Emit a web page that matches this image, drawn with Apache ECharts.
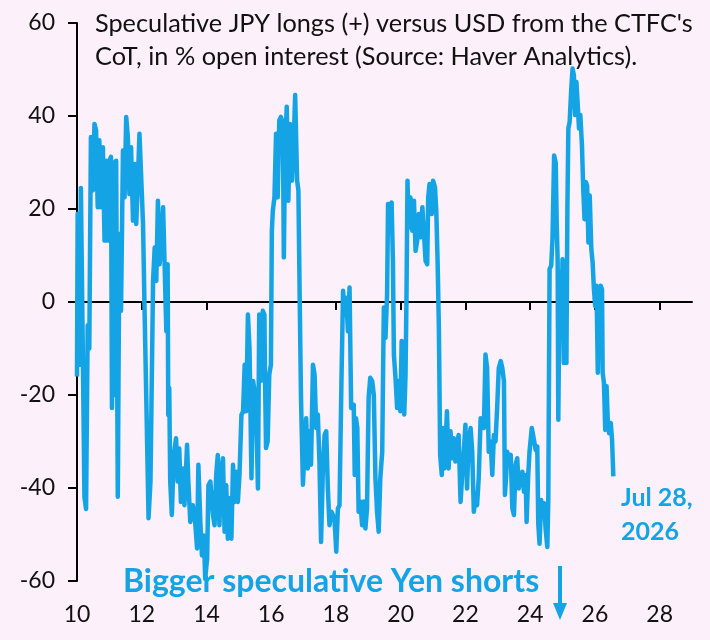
<!DOCTYPE html>
<html>
<head>
<meta charset="utf-8">
<script src="https://cdn.jsdelivr.net/npm/echarts@6/dist/echarts.min.js"></script>
<style>
  html, body { margin: 0; padding: 0; background: #FCF0FA; }
  #chart { width: 710px; height: 640px; }
</style>
</head>
<body>
<div id="chart"></div>
<script>
// Decimal years (10 = 2010) of the observations
const dates = [
  10.00,10.02,10.07,10.12,10.18,10.23,10.28,10.33,10.38,10.43,10.49,10.54,10.59,10.64,10.69,10.74,10.80,10.85,10.90,10.95,
  11.00,11.05,11.08,11.11,11.13,11.16,11.21,11.26,11.31,11.36,11.42,11.47,11.52,11.57,11.62,11.67,11.73,11.78,11.83,11.88,
  11.93,11.98,12.04,12.09,12.14,12.21,12.27,12.35,12.40,12.45,12.50,12.55,12.60,12.66,12.71,12.76,
  12.80,12.82,12.85,12.88,12.93,12.99,13.06,13.11,13.16,13.21,13.27,13.32,13.40,13.44,13.50,13.58,13.65,13.71,13.75,13.81,
  13.86,13.92,13.96,14.02,14.06,14.12,14.20,14.25,14.30,14.35,14.40,14.45,14.51,14.56,14.61,14.66,14.71,14.77,14.82,14.87,
  14.92,14.97,15.02,15.08,15.13,15.18,15.23,15.28,15.33,15.39,15.44,15.49,15.54,15.59,
  15.63,15.68,15.74,15.79,15.81,15.84,15.89,15.94,15.99,16.02,16.05,16.10,16.15,16.20,16.25,16.30,16.36,16.39,16.43,16.48,
  16.53,16.58,16.64,16.69,16.74,16.80,16.84,16.88,16.92,16.98,17.03,17.08,17.13,17.18,17.23,17.29,17.34,17.39,17.44,17.49,
  17.54,17.60,17.65,17.70,17.75,17.80,17.86,17.91,17.96,18.01,18.06,18.11,18.17,18.22,18.27,18.32,18.37,18.42,18.47,
  18.55,18.58,18.62,18.66,18.70,18.75,18.81,18.86,18.91,18.96,19.01,19.06,19.12,19.17,19.22,19.27,19.32,19.37,19.43,19.46,
  19.48,19.53,19.58,19.61,19.66,19.72,19.76,19.79,19.84,19.89,19.94,19.99,20.03,20.07,20.11,20.15,20.18,20.21,20.25,20.30,
  20.36,20.41,20.46,20.51,20.56,20.61,20.67,20.72,20.77,20.82,20.85,20.89,20.96,21.00,21.06,21.10,21.14,21.18,21.22,21.27,
  21.31,21.35,
  21.43,21.48,21.54,21.59,21.64,21.69,21.74,21.79,21.85,21.90,21.95,22.00,22.05,22.10,22.16,22.21,22.26,22.31,22.36,22.41,
  22.47,22.52,22.57,22.62,22.67,22.72,22.78,22.83,22.88,22.93,22.98,23.03,23.09,23.14,23.19,23.22,23.26,23.29,23.34,23.40,
  23.45,23.50,23.55,23.60,23.65,23.71,23.76,23.81,23.86,23.89,23.94,23.98,24.05,24.09,
  24.17,24.22,24.25,24.29,24.34,24.38,24.43,24.48,24.53,24.56,24.60,24.65,24.69,24.74,24.79,24.82,24.85,24.87,24.91,24.96,
  25.00,25.04,25.08,25.12,25.15,25.18,25.22,25.27,25.31,25.35,25.39,25.43,25.47,25.51,25.55,25.60,25.64,25.68,25.72,25.76,
  25.80,25.84,25.89,25.93,25.97,26.01,26.05,26.09,26.13,26.18,26.22,26.24,26.28,26.32,26.36,26.40,26.44,26.49,26.53,26.57
];

// Speculative net JPY longs vs USD, % of open interest
const jpyNet = [
  -16,19,-13.5,24.5,-11,-42,-44.5,-5,-10,35.5,24,38.3,36.9,20.4,34.8,20.4,33.3,13.2,30.4,13.2,
  30.4,31.2,-22.8,-2.7,30,-20,30.4,-41.9,14.6,-1.9,32.6,22.5,39.8,35.5,23.2,33.3,17.5,29.7,16.8,26.1,
  36.2,36.2,16.8,-2.7,-20.6,-46.5,-38.6,4.5,11.7,4.5,21.8,8.1,11.7,20.4,20.3,-6.3,
  8.1,-24.3,-18.5,-38.6,-45.8,-32.9,-29.3,-38.6,-31.5,-43,-35.8,-43.7,-30.7,-38.6,-47.3,-43.7,-47.3,-53,-35,-47.3,
  -54.5,-50.2,-59.5,-55.2,-39.4,-38.6,-45.8,-48,-37.2,-32.9,-48,-37.2,-33.6,-49.4,-39.4,-50.9,-42.2,-50.9,-35,-43,
  -36.5,-43,-37.2,-24.3,-23.5,-13.5,-23.5,-2.7,-9.9,-37.9,-17,-19.2,-24.3,-40.1,
  -2.7,-17,-1.9,-2.7,-17,-31.4,-30,-15.6,-13.5,15.3,19.6,22.5,36.2,22.5,39.1,39.8,38.3,9.6,33.3,42,
  21.8,38.3,26.1,33.3,44.5,26.1,24,0.9,-20.6,-39.3,-31.4,-25,-35.8,-27.8,-35,-13.5,-15.6,-27.1,-24.2,-34.3,
  -51.6,-35,-28.6,-27.8,-40.1,-48,-45.1,-45.8,-47.3,-53.7,-44.4,-43.7,-17,2.4,-2.7,0.9,-6.3,3.1,-22.8,
  -22.1,-37.2,-25,-27.1,-45.1,-42.9,-48,-42.9,-48.7,-44.4,-20.6,-16.3,-17,-20,-37.9,-45.1,-49.4,-37.9,-32.2,-12.7,
  -1.2,-7.7,1.6,21.1,20.4,21.4,8.8,-11.3,-16.3,-22.8,-17,-23.5,-8.4,-19.9,-24.2,-15.6,1.6,26.1,16,22.5,
  15.3,21.8,11,13.2,18.9,13.9,20.4,14.6,8.8,8.1,22.5,25.4,18.9,26.1,24.7,19.6,8.8,-5.5,-32.9,-37.2,
  -27.1,-35.8,
  -23.5,-35.8,-27.8,-33.6,-29.3,-34.3,-30.7,-28.6,-43,-37.2,-32.2,-26.4,-40.1,-30,-27.1,-32.2,-45.1,-42.2,-43.7,-38,
  -25,-26.4,-27.1,-11.3,-14.2,-32.2,-30,-37.2,-28.6,-30,-22.8,-14.2,-12.7,-14.2,-17,-41.5,-37.2,-32.2,-33.6,-32.9,
  -44.4,-45.8,-35,-33.6,-40.1,-37.2,-36.5,-40.8,-37.2,-47.3,-37.2,-32.2,-27.1,-28.6,
  -31.8,-31.1,-47.6,-52,-42.6,-45.5,-43.3,-49,-52.7,-42.6,7.1,7.8,13.5,31.5,30,17.1,8.5,-25.3,6.4,-7.3,
  9.2,-13.1,8.5,-13.1,20,37.3,38.7,45.9,50.2,48.8,40.2,47.3,42.3,37.3,40.2,33.7,24.3,17.8,25.8,25,
  12.8,22.9,11.4,8.5,2.7,-0.9,3.5,-15.2,2.7,3.5,2.7,-15.2,-17.4,-27.5,-18.1,-26,-28.2,-26,-29.6,-37.5
];

const xTickValues = [12, 14, 16, 18, 20, 22, 24, 26, 28];
const xLabelValues = [10, 12, 14, 16, 18, 20, 22, 24, 26, 28];
const titleLines = [
  "Speculative JPY longs (+) versus USD from the CTFC's",
  "CoT, in % open interest (Source: Haver Analytics)."
];
const noteText = 'Bigger speculative Yen shorts';
const lastDateText = ['Jul 28,', '2026'];

const BLUE = '#14A4E6';
const FONT = 'Lato, "Noto Sans", sans-serif';

const chart = echarts.init(document.getElementById('chart'), null, { renderer: 'canvas' });

chart.setOption({
  backgroundColor: '#FCF0FA',
  animation: false,
  title: {
    text: titleLines.join('\n'),
    left: 90,
    top: 2,
    textStyle: { fontFamily: FONT, fontSize: 25.3, fontWeight: 'normal', color: '#111', lineHeight: 33 }
  },
  grid: { left: 77, right: 18, top: 23, bottom: 59, containLabel: false },
  xAxis: [
    {
      type: 'value', min: 10, max: 29,
      axisLine: { show: true, onZero: true, lineStyle: { color: '#000', width: 2 } },
      axisTick: { show: true, customValues: xTickValues, length: 8, inside: false, lineStyle: { color: '#000', width: 2 } },
      axisLabel: { show: false },
      splitLine: { show: false }
    },
    {
      type: 'value', min: 10, max: 29, position: 'bottom',
      axisLine: { show: false, onZero: false },
      axisTick: { show: false },
      axisLabel: {
        show: true, customValues: xLabelValues, margin: 22,
        fontFamily: FONT, fontSize: 23, color: '#111'
      },
      splitLine: { show: false }
    }
  ],
  yAxis: {
    type: 'value', min: -60, max: 60, interval: 20,
    axisLine: { show: true, onZero: false, lineStyle: { color: '#000', width: 2 } },
    axisTick: { show: true, length: 9, lineStyle: { color: '#000', width: 2 } },
    axisLabel: { margin: 22, fontFamily: FONT, fontSize: 23, color: '#111' },
    splitLine: { show: false }
  },
  series: [{
    type: 'line',
    xAxisIndex: 0,
    data: dates.map((d, i) => [d, jpyNet[i]]),
    showSymbol: false,
    symbol: 'none',
    lineStyle: { color: BLUE, width: 4.5, join: 'round' },
    z: 3
  }],
  graphic: [
    {
      type: 'text', left: 123, top: 566, z: 1,
      style: { text: noteText, fill: BLUE, font: 'bold 32px ' + FONT }
    },
    {
      type: 'text', left: 621, top: 481, z: 1,
      style: { text: lastDateText.join('\n'), fill: BLUE, font: 'bold 25px ' + FONT, lineHeight: 34 }
    },
    {
      type: 'line', z: 1,
      shape: { x1: 560, y1: 566, x2: 560, y2: 606 },
      style: { stroke: BLUE, lineWidth: 4 }
    },
    {
      type: 'polygon', z: 1,
      shape: { points: [[553, 603], [567, 603], [560, 620]] },
      style: { fill: BLUE }
    }
  ]
});
</script>
</body>
</html>
